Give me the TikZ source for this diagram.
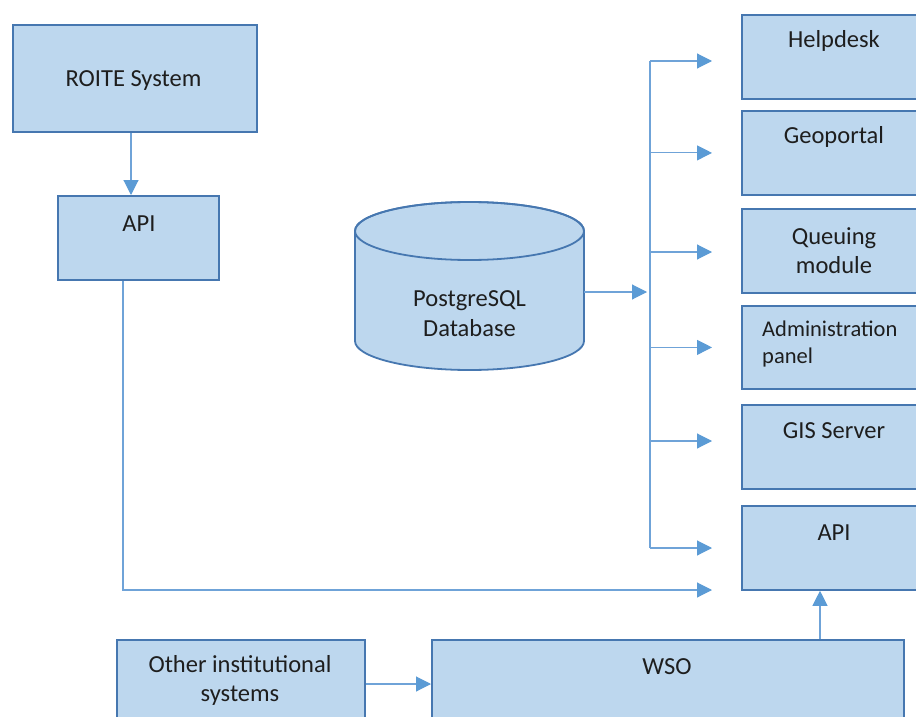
\documentclass[tikz,border=0pt]{standalone}
\usepackage{fontspec}
\setmainfont{Carlito}
\usetikzlibrary{arrows.meta,calc}
\definecolor{boxfill}{HTML}{BDD7EE}
\definecolor{boxline}{HTML}{4677B0}
\definecolor{conncol}{HTML}{6FA3D8}
\definecolor{tipcol}{HTML}{5B9BD5}
\definecolor{txt}{HTML}{1E1E1E}
\tikzset{
  box/.style={draw=boxline, fill=boxfill, line width=1.8pt, rectangle, inner sep=0pt, anchor=north west},
  lbl/.style={text=txt, font=\fontsize{24.5}{29.5}\selectfont, inner sep=0pt, align=center},
  conn/.style={draw=conncol, line width=1.1pt},
  arr/.style={conn, -{Triangle[length=15pt,width=15pt,fill=tipcol,color=tipcol]}}
}
\begin{document}
\begin{tikzpicture}[x=1pt,y=-1pt]
\useasboundingbox (0,0) rectangle (916,717);
\clip (0,0) rectangle (916,717);
\fill[white] (0,0) rectangle (916,717);
% left side
\node[box, minimum width=244pt, minimum height=107pt] (roite) at (12,24) {};
\node[lbl] (roiteT) at (133.5,81) {ROITE System};
\node[box, minimum width=161pt, minimum height=84pt] (apiL) at (57,195) {};
\node[lbl] (apiLT) at (139,224) {API};
% database cylinder
\path[draw=boxline, fill=boxfill, line width=1.8pt]
  (355,231) -- (355,341) arc[start angle=180, end angle=0, x radius=114.5, y radius=29]
  -- (584,231) arc[start angle=0, end angle=-180, x radius=114.5, y radius=29] -- cycle;
\draw[boxline, line width=1.8pt] (469.5,231) ellipse[x radius=114.5, y radius=29];
\node[lbl] (dbT) at (469.5,313.5) {PostgreSQL\\Database};
\coordinate (db) at (584,292);
% right boxes
\node[box, minimum width=190pt, minimum height=84pt] (help) at (741,14) {};
\node[lbl] (helpT) at (834,41) {Helpdesk};
\node[box, minimum width=190pt, minimum height=84pt] (geo) at (741,110) {};
\node[lbl] (geoT) at (834,137) {Geoportal};
\node[box, minimum width=190pt, minimum height=84pt] (queue) at (741,208) {};
\node[lbl] (queueT) at (834,250.5) {Queuing\\module};
\node[box, minimum width=190pt, minimum height=83pt] (admin) at (741,305) {};
\node[lbl, align=left, anchor=west, font=\fontsize{22.5}{27}\selectfont] (adminT) at (762,344) {Administration\\panel};
\node[box, minimum width=190pt, minimum height=84pt] (gis) at (741,404) {};
\node[lbl] (gisT) at (834,431) {GIS Server};
\node[box, minimum width=190pt, minimum height=84pt] (apiR) at (741,505) {};
\node[lbl] (apiRT) at (834,533) {API};
% bottom
\node[box, minimum width=248pt, minimum height=100pt] (other) at (116,639) {};
\node[lbl] (otherT) at (240,680.5) {Other institutional\\systems};
\node[box, minimum width=472pt, minimum height=100pt] (wso) at (431,639) {};
\node[lbl] (wsoT) at (667,667) {WSO};
% connectors
\coordinate (trunk) at (650,0);
\coordinate (tip) at (712,0);
\coordinate (trunkTop) at (650,61);
\coordinate (trunkBot) at (650,548);
\draw[arr] (roite.south -| 131,0) -- (apiL.north -| 131,0);
\draw[conn] (trunkTop) -- (trunkBot);
\draw[arr] (db) -- (647,292);
\draw[arr] (trunkTop) -- (tip |- trunkTop);
\draw[arr] (trunk |- geo.center) -- (tip |- geo.center);
\draw[arr] (trunk |- 0,252) -- (tip |- 0,252);
\draw[arr] (trunk |- admin.center) -- (tip |- admin.center);
\draw[arr] (trunk |- 0,441) -- (tip |- 0,441);
\draw[arr] (trunkBot) -- (tip |- trunkBot);
\coordinate (apiIn) at (712,590);
\draw[arr] (apiL.south -| 123,0) |- (apiIn);
\draw[arr] (other.east |- 0,684) -- (wso.west |- 0,684);
\draw[arr] (wso.north -| 820,0) -- (apiR.south -| 820,0);
\end{tikzpicture}
\end{document}
